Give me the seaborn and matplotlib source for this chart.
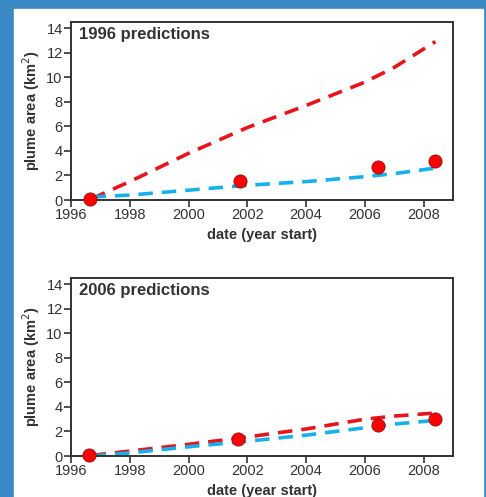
import numpy as np
import pandas as pd
import seaborn as sns
import matplotlib.pyplot as plt

# observed plume areas
obs_year_96 = [1996.65, 2001.75, 2006.45, 2008.4]
obs_area_96 = [0.1, 1.55, 2.65, 3.15]
obs_year_06 = [1996.6, 2001.7, 2006.45, 2008.4]
obs_area_06 = [0.05, 1.4, 2.55, 3.0]

# model predictions
pred_year = [1996.7, 1998, 2000, 2002, 2004, 2006, 2007, 2008.4]
red_96 = [0.1, 1.5, 3.8, 5.9, 7.7, 9.6, 10.8, 12.9]
blue_96 = [0.25, 0.4, 0.8, 1.2, 1.5, 1.9, 2.15, 2.6]
red_06 = [0.05, 0.4, 0.95, 1.55, 2.2, 3.0, 3.25, 3.5]
blue_06 = [0.0, 0.25, 0.75, 1.2, 1.7, 2.3, 2.6, 2.9]

titles = ["1996 predictions", "2006 predictions"]
xticks = [1996, 1998, 2000, 2002, 2004, 2006, 2008]
yticks = [0, 2, 4, 6, 8, 10, 12, 14]

RED = "#e8141b"
BLUE = "#14b1ec"

sns.set_style("ticks")
plt.rcParams["font.family"] = ["Liberation Sans", "DejaVu Sans"]

fig = plt.figure(figsize=(4.86, 4.97), dpi=100, facecolor="#3a88c4")
# white panel behind the plots
fig.patches.append(plt.Rectangle((14 / 486, 0), 469 / 486, 1 - 9 / 497,
                                 transform=fig.transFigure, color="white", zorder=-10))

panels = [
    (titles[0], red_96, blue_96, obs_year_96, obs_area_96, 22, 200),
    (titles[1], red_06, blue_06, obs_year_06, obs_area_06, 278, 456),
]
for title, red, blue, oy, oa, top, bot in panels:
    ax = fig.add_axes([71 / 486, 1 - bot / 497, 382 / 486, (bot - top) / 497])
    ax.set_facecolor("none")
    df = pd.DataFrame({"year": pred_year, "red": red, "blue": blue})
    sns.lineplot(data=df, x="year", y="red", ax=ax, color=RED, lw=2.6,
                 linestyle=(0, (4, 2.5)))
    sns.lineplot(data=df, x="year", y="blue", ax=ax, color=BLUE, lw=2.6,
                 linestyle=(0, (4, 2.5)))
    sns.scatterplot(x=oy, y=oa, ax=ax, color="#ff0000", s=90, edgecolor="#8a1010",
                    linewidth=0.6, zorder=5, clip_on=False)
    ax.set_xlim(1996, 2009)
    ax.set_ylim(0, 14.5)
    ax.set_xticks(xticks)
    ax.set_yticks(yticks)
    ax.tick_params(direction="out", length=5, width=1.2, labelsize=10.5,
                   labelcolor="#333333", color="#333333", pad=1)
    for s in ax.spines.values():
        s.set_linewidth(1.4)
        s.set_color("#333333")
    ax.set_xlabel("date (year start)", fontsize=10.5, fontweight="bold",
                  color="#333333", labelpad=4)
    ax.set_ylabel("plume area (km$^2$)", fontsize=10.5, fontweight="bold",
                  color="#333333", labelpad=3)
    ax.text(0.02, 0.97, title, transform=ax.transAxes, fontsize=12,
            fontweight="bold", color="#333333", va="top", ha="left")

fig.savefig("out.png", dpi=100, facecolor=fig.get_facecolor())
